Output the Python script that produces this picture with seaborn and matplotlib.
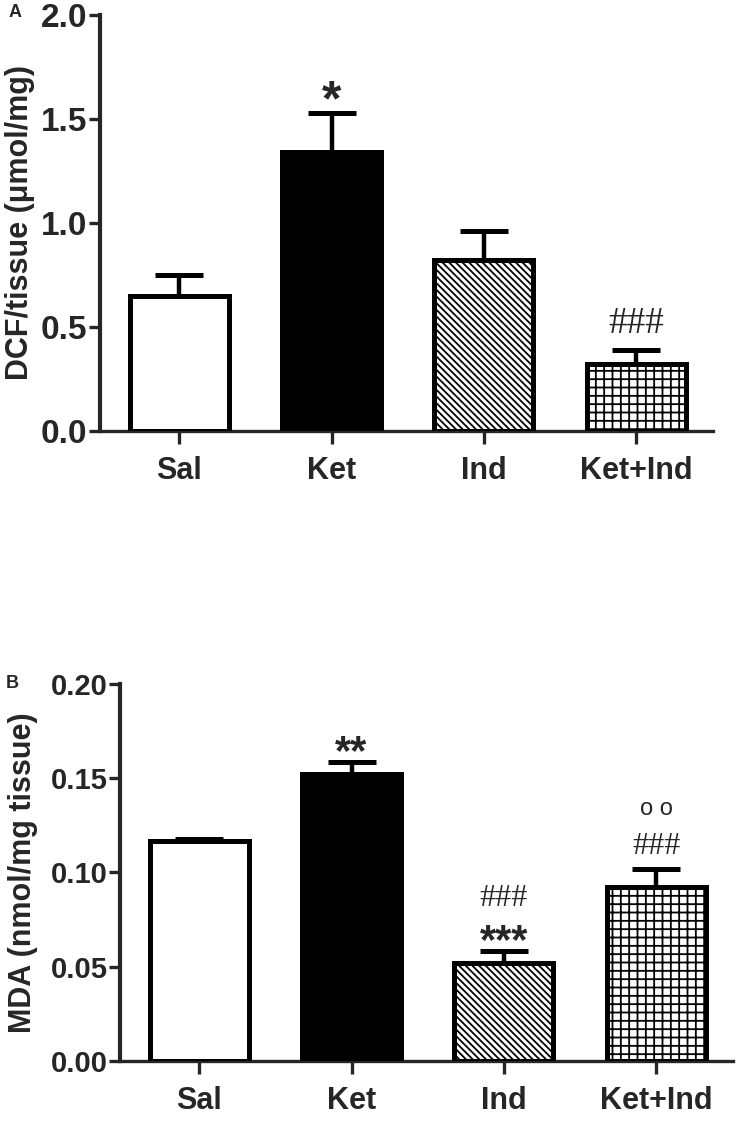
import seaborn as sns
import pandas as pd
import matplotlib.pyplot as plt
import numpy as np

# Group names and values
groups = ['Sal', 'Ket', 'Ind', 'Ket+Ind']
dcf_mean = [0.65, 1.34, 0.82, 0.32]
dcf_sem = [0.10, 0.19, 0.14, 0.07]
mda_mean = [0.1165, 0.152, 0.052, 0.0925]
mda_sem = [0.0015, 0.0066, 0.0064, 0.0094]

# Significance marks above each bar
dcf_marks = [[], ['*'], [], ['###']]
mda_marks = [[], ['**'], ['***', '###'], ['###', 'o o']]

fills = ['white', 'black', 'white', 'white']
hatches = ['', '', '\\' * 5, '++']

sns.set_style('ticks')
plt.rcParams['font.family'] = ['Liberation Sans', 'DejaVu Sans']
plt.rcParams['font.weight'] = 'bold'
plt.rcParams['hatch.linewidth'] = 1.3

fig = plt.figure(figsize=(7.39, 11.35), dpi=100, facecolor='white')
axA = fig.add_axes([0.1353, 0.6203, 0.8297, 0.3665])
axB = fig.add_axes([0.1624, 0.0652, 0.8296, 0.3322])


def draw_panel(ax, mean, sem, ylabel, yticks, fmt, marks, ystep, tick_fs, fs, label_x):
    df = pd.DataFrame({'Group': groups, 'Value': mean})
    sns.barplot(data=df, x='Group', y='Value', hue='Group', palette=fills,
                legend=False, width=0.65, edgecolor='black', linewidth=3.6,
                saturation=1, ax=ax, zorder=3)
    for patch, h in zip(ax.patches, hatches):
        patch.set_hatch(h)
    x = np.arange(len(groups))
    ax.errorbar(x, mean, yerr=[np.zeros(len(mean)), sem], fmt='none',
                ecolor='black', elinewidth=3.2, capsize=17, capthick=3.6,
                zorder=2)
    top = np.array(mean) + np.array(sem)
    for i, labels in enumerate(marks):
        for k, lab in enumerate(labels):
            if lab.startswith('#'):
                ax.text(i, top[i] + ystep * (k + 0.75), lab, ha='center',
                        va='center', fontsize=fs['hash'],
                        family=['Liberation Serif'], fontweight='normal')
            elif lab.startswith('o'):
                ax.text(i, top[i] + ystep * (k + 1.0), lab, ha='center',
                        va='center', fontsize=fs['deg'], fontweight='normal')
            else:
                ax.text(i, top[i] + ystep * (k + 0.3), lab, ha='center',
                        va='center', fontsize=fs['star'])
    ax.set_xlim(-0.52, 3.505)
    ax.set_ylim(yticks[0], yticks[-1])
    ax.set_yticks(yticks)
    ax.set_yticklabels([fmt.format(v) for v in yticks], fontsize=tick_fs)
    ax.set_xticks(x)
    ax.set_xticklabels(groups, fontsize=22)
    ax.set_xlabel('')
    ax.set_ylabel(ylabel, fontsize=22, fontweight='bold')
    ax.yaxis.set_label_coords(label_x, 0.5)
    sns.despine(ax=ax)
    ax.spines['left'].set_linewidth(3)
    ax.spines['bottom'].set_linewidth(2.4)
    ax.tick_params(axis='y', length=8, width=2.4, pad=1)
    ax.tick_params(axis='x', length=9, width=2.4, pad=9)


draw_panel(axA, dcf_mean, dcf_sem, 'DCF/tissue (μmol/mg)',
           [0.0, 0.5, 1.0, 1.5, 2.0], '{:.1f}', dcf_marks, 0.17, 24,
           {'hash': 27, 'star': 36, 'deg': 17}, -0.106)
draw_panel(axB, mda_mean, mda_sem, 'MDA (nmol/mg tissue)',
           [0.00, 0.05, 0.10, 0.15, 0.20], '{:.2f}', mda_marks, 0.016, 21,
           {'hash': 23, 'star': 30, 'deg': 17}, -0.134)

fig.text(0.011, 0.9965, 'A', fontsize=13, ha='left', va='top')
fig.text(0.008, 0.4053, 'B', fontsize=13, ha='left', va='top')

fig.savefig('out.png', dpi=100, facecolor='white')
